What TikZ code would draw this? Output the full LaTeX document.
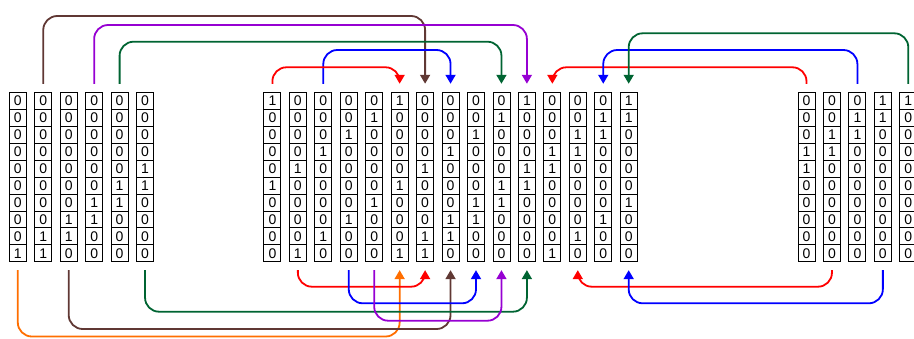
\documentclass[tikz,border=0pt]{standalone}
\usepackage{fontspec}
\setmainfont{Liberation Sans}
\usetikzlibrary{arrows.meta,calc}
\definecolor{cbrown}{RGB}{96,56,52}
\definecolor{cpurple}{RGB}{150,0,210}
\definecolor{cgreen}{RGB}{0,100,50}
\definecolor{cblue}{RGB}{0,0,255}
\definecolor{cred}{RGB}{255,0,0}
\definecolor{corange}{RGB}{255,110,0}
\tikzset{
  cell/.style={draw=black,line width=0.9pt,minimum width=17pt,minimum height=16.9pt,inner sep=0pt,
    font=\fontsize{14}{15}\selectfont},
  conn/.style={line width=1.8pt,rounded corners=14pt},
  tipc/.style={-{Triangle[width=10pt,length=9pt]}},
}
\begin{document}
\begin{tikzpicture}[x=1pt,y=-1pt]
\useasboundingbox (0,0) rectangle (914,338);
\clip (0,0) rectangle (914,338);
% left group
\foreach \c/\bits [count=\i] in {
  L1/{0,0,0,0,0,0,0,0,0,1},
  L2/{0,0,0,0,0,0,0,0,1,1},
  L3/{0,0,0,0,0,0,0,1,1,0},
  L4/{0,0,0,0,0,0,1,1,0,0},
  L5/{0,0,0,0,0,1,1,0,0,0},
  L6/{0,0,0,0,1,1,0,0,0,0}}{
  \foreach \b [count=\r] in \bits {
    \node[cell] (\c-\r) at ({17.8+25.45*(\i-1)},{101.15+16.9*(\r-1)}) {\b};
  }
}
% middle group
\foreach \c/\bits [count=\i] in {
  M1/{1,0,0,0,0,1,0,0,0,0},
  M2/{0,0,0,0,1,0,0,0,0,1},
  M3/{0,0,0,1,0,0,0,0,1,0},
  M4/{0,0,1,0,0,0,0,1,0,0},
  M5/{0,1,0,0,0,0,1,0,0,0},
  M6/{1,0,0,0,0,1,0,0,0,1},
  M7/{0,0,0,0,1,0,0,0,1,1},
  M8/{0,0,0,1,0,0,0,1,1,0},
  M9/{0,0,1,0,0,0,1,1,0,0},
  M10/{0,1,0,0,0,1,1,0,0,0},
  M11/{1,0,0,0,1,1,0,0,0,0},
  M12/{0,0,0,1,1,0,0,0,0,1},
  M13/{0,0,1,1,0,0,0,0,1,0},
  M14/{0,1,1,0,0,0,0,1,0,0},
  M15/{1,1,0,0,0,0,1,0,0,0}}{
  \foreach \b [count=\r] in \bits {
    \node[cell] (\c-\r) at ({272.4+25.45*(\i-1)},{101.15+16.9*(\r-1)}) {\b};
  }
}
% right group
\foreach \c/\bits [count=\i] in {
  R1/{0,0,0,1,1,0,0,0,0,0},
  R2/{0,0,1,1,0,0,0,0,0,0},
  R3/{0,1,1,0,0,0,0,0,0,0},
  R4/{1,1,0,0,0,0,0,0,0,0},
  R5/{1,0,0,0,0,0,0,0,0,0}}{
  \foreach \b [count=\r] in \bits {
    \node[cell] (\c-\r) at ({806.5+25.45*(\i-1)},{101.15+16.9*(\r-1)}) {\b};
  }
}
% anchor coordinates above and below each column
\foreach \c in {L1,L2,L3,L4,L5,L6,M1,M2,M3,M4,M5,M6,M7,M8,M9,M10,M11,M12,M13,M14,M15,R1,R2,R3,R4,R5}{
  \coordinate (t\c) at ($(\c-1.north)+(0,-8.5)$);
  \coordinate (b\c) at ($(\c-10.south)+(0,8)$);
}
% top connectors
\draw[conn,tipc,cbrown]  (tL2) -- (tL2 |- 0,16)   -- (tM7 |- 0,16)   -- (tM7);
\draw[conn,tipc,cpurple] (tL4) -- (tL4 |- 0,25)   -- (tM11 |- 0,25)  -- (tM11);
\draw[conn,tipc,cgreen]  (tL5) -- (tL5 |- 0,41.7) -- (tM10 |- 0,41.7) -- (tM10);
\draw[conn,tipc,cblue]   (tM3) -- (tM3 |- 0,50)   -- (tM8 |- 0,50)   -- (tM8);
\draw[conn,tipc,cred]    (tM1) -- (tM1 |- 0,67.3) -- (tM6 |- 0,67.3) -- (tM6);
\draw[conn,tipc,cred]    (tR1) -- (tR1 |- 0,67.3) -- (tM12 |- 0,67.3) -- (tM12);
\draw[conn,tipc,cblue]   (tR3) -- (tR3 |- 0,50)   -- (tM14 |- 0,50)  -- (tM14);
\draw[conn,tipc,cgreen]  (tR5) -- (tR5 |- 0,33.3) -- (tM15 |- 0,33.3) -- (tM15);
% bottom connectors
\draw[conn,tipc,corange] (bL1) -- (bL1 |- 0,336.5) -- (bM6 |- 0,336.5) -- (bM6);
\draw[conn,tipc,cbrown]  (bL3) -- (bL3 |- 0,329)   -- (bM8 |- 0,329)   -- (bM8);
\draw[conn,tipc,cgreen]  (bL6) -- (bL6 |- 0,311.7) -- (bM11 |- 0,311.7) -- (bM11);
\draw[conn,tipc,cred]    (bM2) -- (bM2 |- 0,286.7) -- (bM7 |- 0,286.7) -- (bM7);
\draw[conn,tipc,cblue]   (bM4) -- (bM4 |- 0,303.3) -- (bM9 |- 0,303.3) -- (bM9);
\draw[conn,tipc,cpurple] (bM5) -- (bM5 |- 0,320.7) -- (bM10 |- 0,320.7) -- (bM10);
\draw[conn,tipc,cred]    (bR2) -- (bR2 |- 0,286.7) -- (bM13 |- 0,286.7) -- (bM13);
\draw[conn,tipc,cblue]   (bR4) -- (bR4 |- 0,303.3) -- (bM15 |- 0,303.3) -- (bM15);
\end{tikzpicture}
\end{document}
